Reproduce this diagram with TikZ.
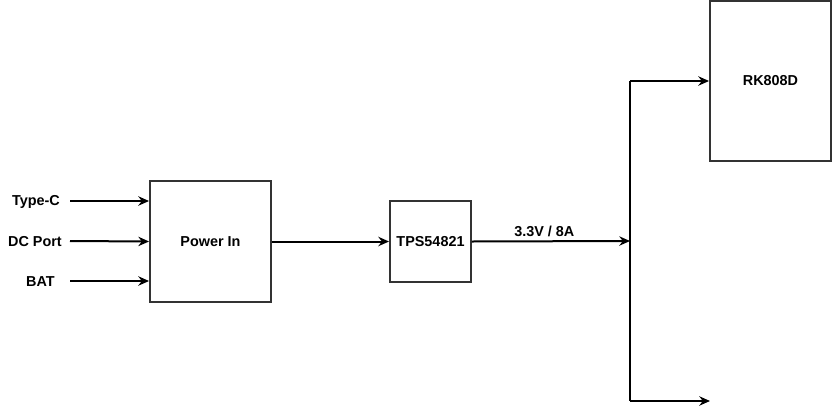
\documentclass[tikz,border=0pt]{standalone}
\usepackage{fontspec}
\setmainfont{Liberation Sans}
\usetikzlibrary{arrows.meta}

\begin{document}
\begin{tikzpicture}[x=0.75pt, y=-0.75pt,
    block/.style={draw=black!80, line width=1.2pt, fill=white, inner sep=0pt},
    lbl/.style={font=\fontsize{10.8}{12}\selectfont\bfseries},
    wire/.style={line width=1.5pt, -{Stealth[length=8pt, width=7pt]}}]
          \useasboundingbox (0,0) rectangle (832,411);

          \node[block, minimum width=91pt, minimum height=91pt, lbl] (power) at (210.5,241.5) {Power In};
          \node[block, minimum width=61pt, minimum height=61pt, lbl] (tps) at (430.5,241.5) {TPS54821};
          \node[block, minimum width=91pt, minimum height=120pt, lbl] (rk) at (770.5,81) {RK808D};

          \node[lbl] (typec) at (36,202) {Type-C};
          \node[lbl] (dcport) at (35,242) {DC Port};
          \node[lbl] (bat) at (40.5,282) {BAT};

          \coordinate (in1) at (70,201);
          \coordinate (in2) at (70,241);
          \coordinate (in3) at (70,281);
          \coordinate (bus) at (630,241);
          \coordinate (bustop) at (630,81);
          \coordinate (busbot) at (630,401);
          \coordinate (out2) at (710,401);

          \draw[wire] (in1) -- (in1 -| power.west);
          \draw[wire] (in2) -- (power.west);
          \draw[wire] (in3) -- (in3 -| power.west);
          \draw[wire] (power.east) -- (tps.west);
          \draw[wire] (tps.east) -- node[lbl, above, xshift=-5pt, yshift=-1pt] {3.3V / 8A} (bus);
          \draw[line width=1.5pt] (bustop) -- (busbot);
          \draw[wire] (bustop) -- (rk.west);
          \draw[wire] (busbot) -- (out2);
        \end{tikzpicture}
\end{document}
